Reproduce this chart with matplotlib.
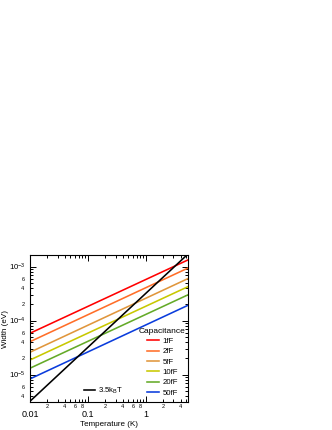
import math
import matplotlib
matplotlib.use('Agg')
import matplotlib.pyplot as plt
from matplotlib.ticker import LogLocator, FuncFormatter

# Values (straight lines on log-log axes, so two ends each)
t_ends = [0.01, 5.35]
capacitance = ['1fF', '2fF', '5fF', '10fF', '20fF', '50fF']
width_lo = [5.82e-5, 4.06e-5, 2.59e-5, 1.86e-5, 1.31e-5, 8.3e-6]   # at T = 0.01 K
width_hi = [1.33e-3, 9.4e-4, 6.0e-4, 4.25e-4, 3.0e-4, 1.92e-4]     # at T = 5.35 K
colors = ['#ff0000', '#ff6e28', '#e0963c', '#c8c800', '#64aa28', '#0a3cdc']
kt_label = r'3.5k$_\mathregular{B}$T'
kt_values = [3.2e-6, 1.71e-3]

plt.rcParams['font.family'] = ['Liberation Sans', 'DejaVu Sans']
plt.rcParams['mathtext.fontset'] = 'custom'
plt.rcParams['mathtext.rm'] = 'Liberation Sans'
plt.rcParams['mathtext.it'] = 'Liberation Sans:italic'

fig = plt.figure(figsize=(3.32, 4.30), dpi=100)
ax = fig.add_axes([30 / 332, 28 / 430, 158 / 332, 147 / 430])

cap_lines = []
for name, lo, hi, c in zip(capacitance, width_lo, width_hi, colors):
    ln, = ax.plot(t_ends, [lo, hi], color=c, lw=1.15, label=name)
    cap_lines.append(ln)
kt_line, = ax.plot(t_ends, kt_values, color='black', lw=1.15, label=kt_label)

ax.set_xscale('log')
ax.set_yscale('log')
ax.set_xlim(0.01, 5.35)
ax.set_ylim(3.1e-6, 1.64e-3)


def major_fmt_x(v, pos):
    return {0.01: '0.01', 0.1: '0.1', 1.0: '1'}.get(round(v, 3), '')


def major_fmt_y(v, pos):
    return r'$\mathregular{10^{%d}}$' % int(round(math.log10(v)))


def minor_fmt(digits):
    def f(v, pos):
        d = int(round(v / 10 ** math.floor(math.log10(v) + 1e-9)))
        return str(d) if d in digits else ''
    return f


ax.xaxis.set_major_locator(LogLocator(base=10))
ax.xaxis.set_minor_locator(LogLocator(base=10, subs=range(2, 10)))
ax.xaxis.set_major_formatter(FuncFormatter(major_fmt_x))
ax.xaxis.set_minor_formatter(FuncFormatter(minor_fmt([2, 4, 6, 8])))
ax.yaxis.set_major_locator(LogLocator(base=10))
ax.yaxis.set_minor_locator(LogLocator(base=10, subs=range(2, 10)))
ax.yaxis.set_major_formatter(FuncFormatter(major_fmt_y))
ax.yaxis.set_minor_formatter(FuncFormatter(minor_fmt([2, 4, 6])))

ax.tick_params(which='both', direction='in', top=True, right=True, width=0.7)
ax.tick_params(which='major', length=4.5)
ax.tick_params(which='minor', length=2.5, labelsize=4)
ax.tick_params(axis='x', which='major', labelsize=6.5, pad=6)
ax.tick_params(axis='x', which='minor', pad=1.5)
ax.tick_params(axis='y', which='major', labelsize=5.6, pad=3)
ax.tick_params(axis='y', which='minor', pad=4)
for s in ax.spines.values():
    s.set_linewidth(0.8)

ax.set_xlabel('Temperature (K)', fontsize=5.8, labelpad=1)
ax.set_ylabel('Width (eV)', fontsize=5.8)
ax.yaxis.set_label_coords(-0.13, 0.5)

leg1 = ax.legend(handles=cap_lines, title='Capacitance', loc='upper left',
                 bbox_to_anchor=(0.69, 0.505), frameon=False, fontsize=5.6,
                 title_fontsize=6, handlelength=1.5, handletextpad=0.5,
                 labelspacing=0.37, borderpad=0, borderaxespad=0)
ax.add_artist(leg1)
ax.legend(handles=[kt_line], loc='center left', bbox_to_anchor=(0.34, 0.075),
          frameon=False, fontsize=5.6, handlelength=1.4, handletextpad=0.5,
          borderpad=0, borderaxespad=0)

fig.savefig('out.png', dpi=100)
